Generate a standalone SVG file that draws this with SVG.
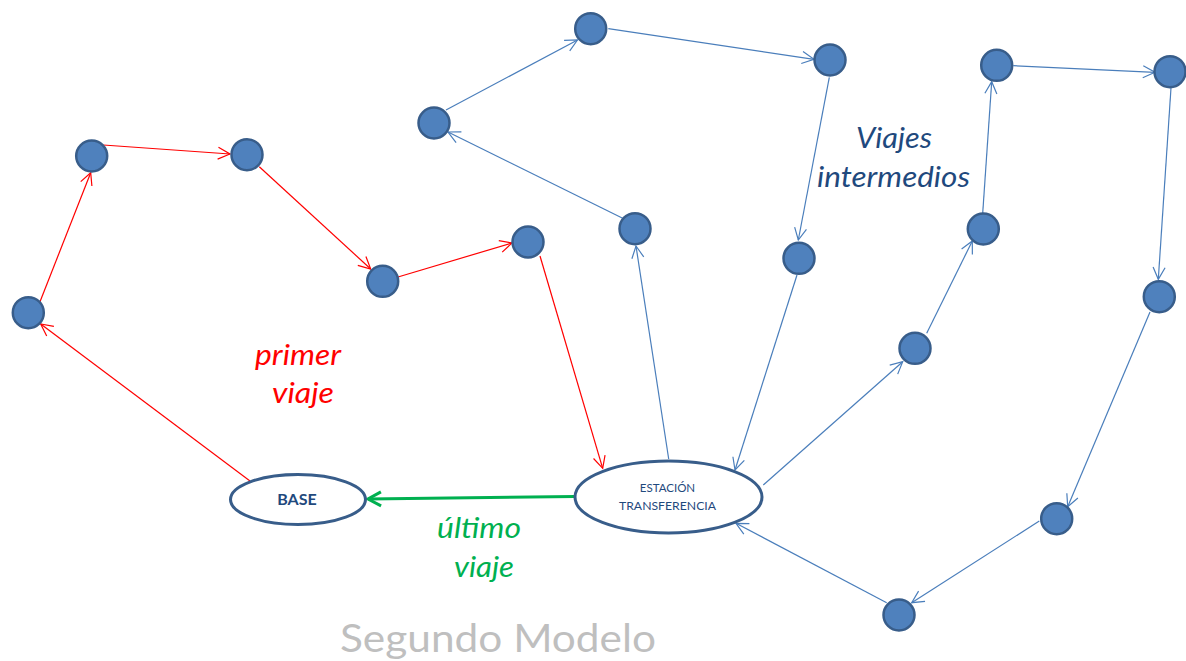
<svg xmlns="http://www.w3.org/2000/svg" width="1186" height="661" viewBox="0 0 1186 661">
<style>
.n{fill:#4f81bd;stroke:#385d8a;stroke-width:2.5}
.e{fill:#fff;stroke:#385d8a;stroke-width:3}
.r{stroke:#ff0000;stroke-width:1.2;fill:none;marker-end:url(#ar)}
.b{stroke:#4a7ebb;stroke-width:1.2;fill:none;marker-end:url(#ab)}
.g{stroke:#00b050;stroke-width:3;fill:none;marker-end:url(#ag)}
.lbl{font-family:Lato,"Liberation Sans",sans-serif;font-style:italic}
.et{font-family:Lato,"Liberation Sans",sans-serif;fill:#1f497d;text-anchor:middle}
</style>
<defs>
<marker id="ar" markerUnits="userSpaceOnUse" viewBox="-14 -8 16 16" markerWidth="16" markerHeight="16" refX="0" refY="0" orient="auto"><path d="M-12,-6 L0,0 L-12,6" fill="none" stroke="#ff0000" stroke-width="1.2"/></marker>
<marker id="ab" markerUnits="userSpaceOnUse" viewBox="-14 -8 16 16" markerWidth="16" markerHeight="16" refX="0" refY="0" orient="auto"><path d="M-12,-6 L0,0 L-12,6" fill="none" stroke="#4a7ebb" stroke-width="1.2"/></marker>
<marker id="ag" markerUnits="userSpaceOnUse" viewBox="-16 -10 20 20" markerWidth="20" markerHeight="20" refX="0" refY="0" orient="auto"><path d="M-13,-7 L0,0 L-13,7" fill="none" stroke="#00b050" stroke-width="3"/></marker>
</defs>
<g id="connectors">
<line class="r" x1="250" y1="481" x2="40.7" y2="324"/>
<line class="r" x1="40" y1="301.7" x2="90.7" y2="172.7"/>
<line class="r" x1="103.3" y1="145" x2="230" y2="154"/>
<line class="r" x1="259.3" y1="166.7" x2="370.7" y2="269"/>
<line class="r" x1="398" y1="277" x2="512" y2="243"/>
<line class="r" x1="540" y1="256" x2="602.7" y2="468.3"/>
<line class="b" x1="668.7" y1="459" x2="636" y2="246"/>
<line class="b" x1="622.7" y1="218.3" x2="448" y2="132"/>
<line class="b" x1="446" y1="110" x2="577.5" y2="40"/>
<line class="b" x1="608.3" y1="28.7" x2="814" y2="59.3"/>
<line class="b" x1="829.3" y1="77.3" x2="798.3" y2="240"/>
<line class="b" x1="797" y1="275" x2="735" y2="470"/>
<line class="b" x1="763.3" y1="485" x2="902.7" y2="361.7"/>
<line class="b" x1="926.7" y1="333.3" x2="972.3" y2="241"/>
<line class="b" x1="982.7" y1="213.3" x2="991.7" y2="81.7"/>
<line class="b" x1="1013.3" y1="65.7" x2="1155" y2="72.3"/>
<line class="b" x1="1171" y1="87.7" x2="1158.3" y2="279.3"/>
<line class="b" x1="1150" y1="312" x2="1067.7" y2="506.7"/>
<line class="b" x1="1039.3" y1="521" x2="911.7" y2="602.7"/>
<line class="b" x1="886.7" y1="602.7" x2="736" y2="523.3"/>
<line class="g" x1="575" y1="496.5" x2="368" y2="499"/>
</g>
<g id="base"><ellipse class="e" cx="298" cy="499.5" rx="67.5" ry="25"/><text class="et" x="297" y="505" font-size="16" font-weight="bold">BASE</text></g>
<g id="estacion"><ellipse class="e" cx="668.5" cy="497" rx="93.5" ry="36"/><text class="et" x="667.5" y="492" font-size="11.5">ESTACIÓN</text><text class="et" x="667.5" y="510" font-size="11.5" textLength="97" lengthAdjust="spacingAndGlyphs">TRANSFERENCIA</text></g>
<g id="nA"><circle class="n" cx="28.3" cy="312.7" r="15.5"/></g>
<g id="nB"><circle class="n" cx="91.7" cy="156" r="15.5"/></g>
<g id="nC"><circle class="n" cx="247" cy="154.7" r="15.5"/></g>
<g id="nD"><circle class="n" cx="382.7" cy="281.3" r="15.5"/></g>
<g id="nE"><circle class="n" cx="528" cy="242" r="15.5"/></g>
<g id="nF"><circle class="n" cx="434" cy="123" r="15.5"/></g>
<g id="nG"><circle class="n" cx="590.7" cy="28.7" r="15.5"/></g>
<g id="nH"><circle class="n" cx="830" cy="60" r="15.5"/></g>
<g id="nI"><circle class="n" cx="635" cy="228.7" r="15.5"/></g>
<g id="nJ"><circle class="n" cx="799" cy="258.3" r="15.5"/></g>
<g id="nK"><circle class="n" cx="915" cy="348.3" r="15.5"/></g>
<g id="nL"><circle class="n" cx="983.3" cy="229" r="15.5"/></g>
<g id="nM"><circle class="n" cx="996.7" cy="65.3" r="15.5"/></g>
<g id="nN"><circle class="n" cx="1170" cy="71.7" r="15.5"/></g>
<g id="nO"><circle class="n" cx="1159.3" cy="296.7" r="15.5"/></g>
<g id="nP"><circle class="n" cx="1056.7" cy="518.7" r="15.5"/></g>
<g id="nQ"><circle class="n" cx="899" cy="615" r="15.5"/></g>
<g id="labels">
<text class="lbl" fill="#ff0000" font-size="28" x="255" y="365" textLength="86" lengthAdjust="spacingAndGlyphs">primer</text>
<text class="lbl" fill="#ff0000" font-size="28" x="272" y="403" textLength="62" lengthAdjust="spacingAndGlyphs">viaje</text>
<text class="lbl" fill="#1f497d" font-size="29" x="856" y="148" textLength="76" lengthAdjust="spacingAndGlyphs">Viajes</text>
<text class="lbl" fill="#1f497d" font-size="29" x="817" y="187" textLength="153" lengthAdjust="spacingAndGlyphs">intermedios</text>
<text class="lbl" fill="#00b050" font-size="28" x="437" y="538" textLength="84" lengthAdjust="spacingAndGlyphs">último</text>
<text class="lbl" fill="#00b050" font-size="28" x="454" y="577" textLength="60" lengthAdjust="spacingAndGlyphs">viaje</text>
<text font-family="Lato,'Liberation Sans',sans-serif" fill="#bfbfbf" font-size="38" x="340" y="652" textLength="316" lengthAdjust="spacingAndGlyphs">Segundo Modelo</text>
</g>
</svg>
